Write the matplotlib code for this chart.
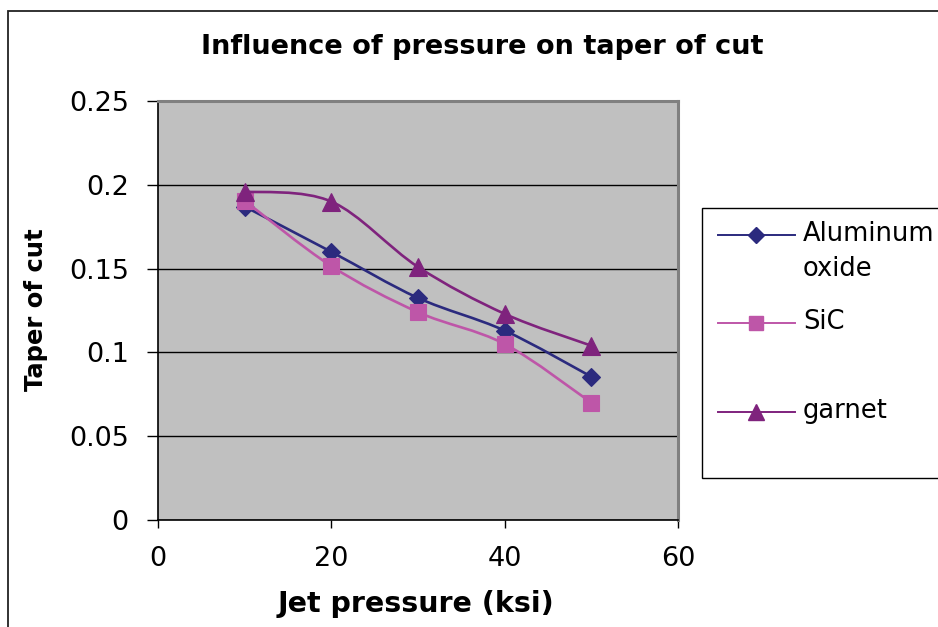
import matplotlib
matplotlib.use("Agg")
import matplotlib.pyplot as plt
from matplotlib.path import Path
from matplotlib.patches import PathPatch, Rectangle
from matplotlib.lines import Line2D
import numpy as np

# ---------------- data ----------------
pressure = [10, 20, 30, 40, 50]
aluminum_oxide = [0.187, 0.160, 0.1325, 0.113, 0.0855]
sic = [0.1905, 0.1515, 0.124, 0.105, 0.070]
garnet = [0.196, 0.190, 0.151, 0.123, 0.104]
series_names = ["Aluminum\noxide", "SiC", "garnet"]
title_text = "Influence of pressure on taper of cut"
xlabel_text = "Jet pressure (ksi)"
ylabel_text = "Taper of cut"
x_ticks = [0, 20, 40, 60]
y_ticks = [0, 0.05, 0.1, 0.15, 0.2, 0.25]
y_tick_labels = ["0", "0.05", "0.1", "0.15", "0.2", "0.25"]

# ---------------- style ----------------
colors = ["#2B2A7E", "#BE56A8", "#7F237D"]
markers = ["D", "s", "^"]
msizes = [9, 11, 13]

W, H = 938, 627
plt.rcParams['font.family'] = ['DejaVu Sans']
fig = plt.figure(figsize=(W / 100, H / 100), dpi=100)
fig.patch.set_facecolor("white")


def fx(px):
    return px / W


def fy(py):
    return 1 - py / H


# outer frame (extends off the right / bottom edge)
fig.patches.append(Rectangle((fx(8), -0.2), 1.2, fy(11) + 0.2, transform=fig.transFigure,
                             fill=False, edgecolor="#222222", lw=1.3))

ax = fig.add_axes([fx(158), fy(520), (678 - 158) / W, (520 - 101) / H])
ax.set_facecolor("#C0C0C0")
ax.set_xlim(0, 60)
ax.set_ylim(0, 0.25)
ax.set_xticks(x_ticks)
ax.set_xticklabels([str(v) for v in x_ticks])
ax.set_yticks(y_ticks)
ax.set_yticklabels(y_tick_labels)
ax.yaxis.grid(True, color="black", lw=1.0)
ax.set_axisbelow(True)
for s in ["left", "bottom"]:
    ax.spines[s].set_color("black")
    ax.spines[s].set_linewidth(1.2)
for s in ["top", "right"]:
    ax.spines[s].set_color("#808080")
    ax.spines[s].set_linewidth(2.2)
ax.tick_params(axis="y", direction="out", length=8, width=1, pad=13, labelsize=19.5)
ax.tick_params(axis="x", direction="out", length=6, width=1, pad=13, labelsize=19.5)


def smooth_path(xs, ys):
    pts = np.column_stack([xs, ys]).astype(float)
    n = len(pts)
    verts = [pts[0]]
    codes = [Path.MOVETO]
    for i in range(n - 1):
        p0 = pts[i - 1] if i > 0 else pts[i]
        p1 = pts[i]
        p2 = pts[i + 1]
        p3 = pts[i + 2] if i + 2 < n else pts[i + 1]
        c1 = p1 + (p2 - p0) / 6.0
        c2 = p2 - (p3 - p1) / 6.0
        verts += [c1, c2, p2]
        codes += [Path.CURVE4] * 3
    return Path(verts, codes)


all_series = [aluminum_oxide, sic, garnet]
for k, ys in enumerate(all_series):
    patch = PathPatch(smooth_path(pressure, ys), fill=False, edgecolor=colors[k],
                      lw=1.9, zorder=3 + 2 * k, capstyle="round", joinstyle="round")
    ax.add_patch(patch)
    ax.plot(pressure, ys, linestyle="none", marker=markers[k], markersize=msizes[k],
            markerfacecolor=colors[k], markeredgecolor=colors[k], markeredgewidth=0.8,
            zorder=4 + 2 * k, clip_on=False)

# titles
fig.text(fx(482), fy(47), title_text, ha="center", va="center", fontsize=19.5, fontweight="bold")
fig.text(fx(36), fy(310), ylabel_text, ha="center", va="center", rotation=90,
         fontsize=17.5, fontweight="bold")
fig.text(fx(416), fy(604), xlabel_text, ha="center", va="center", fontsize=20.5, fontweight="bold")

# legend (drawn manually so the box runs off the right edge like the original)
fig.patches.append(Rectangle((fx(702), fy(478)), 0.5, (478 - 208) / H, transform=fig.transFigure,
                             facecolor="white", edgecolor="black", lw=1.0))
leg_y = [235, 323, 412]
for k, name in enumerate(series_names):
    fig.lines.append(Line2D([fx(718), fx(795)], [fy(leg_y[k])] * 2, transform=fig.transFigure,
                            color=colors[k], lw=1.4))
    fig.lines.append(Line2D([fx(756)], [fy(leg_y[k])], transform=fig.transFigure,
                            linestyle="none", marker=markers[k], markersize=msizes[k] - 1,
                            markerfacecolor=colors[k], markeredgecolor=colors[k]))
    fig.text(fx(803), fy(leg_y[k] - 14), name, ha="left", va="top", fontsize=18.5,
             linespacing=1.45)

fig.savefig("out.png", dpi=100, facecolor="white")
